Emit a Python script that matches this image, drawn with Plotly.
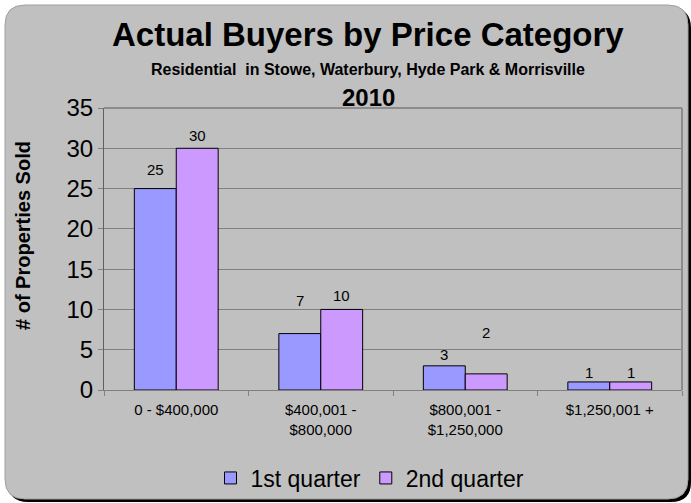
"""Actual Buyers by Price Category - 2010 residential sales, bar chart"""
import plotly.graph_objects as go

categories = ["0 - $400,000", "$400,001 -<br>$800,000", "$800,001 -<br>$1,250,000", "$1,250,001 +"]
q1_sold = [25, 7, 3, 1]
q2_sold = [30, 10, 2, 1]
series_names = ["1st quarter", "2nd quarter"]

W, H = 691, 503
PLOT_L, PLOT_R, PLOT_T, PLOT_B = 104, 682, 108, 390
BARGAP = 0.42


def px_x(px):
    return (px - PLOT_L) / (PLOT_R - PLOT_L)


def px_y(py):
    return (PLOT_B - py) / (PLOT_B - PLOT_T)


def rounded_rect(x0, y0, x1, y1, r):
    # pixel box -> paper-coordinate path with quadratic corners
    pts = [
        f"M {px_x(x0 + r)} {px_y(y0)}",
        f"L {px_x(x1 - r)} {px_y(y0)}",
        f"Q {px_x(x1)} {px_y(y0)} {px_x(x1)} {px_y(y0 + r)}",
        f"L {px_x(x1)} {px_y(y1 - r)}",
        f"Q {px_x(x1)} {px_y(y1)} {px_x(x1 - r)} {px_y(y1)}",
        f"L {px_x(x0 + r)} {px_y(y1)}",
        f"Q {px_x(x0)} {px_y(y1)} {px_x(x0)} {px_y(y1 - r)}",
        f"L {px_x(x0)} {px_y(y0 + r)}",
        f"Q {px_x(x0)} {px_y(y0)} {px_x(x0 + r)} {px_y(y0)}",
        "Z",
    ]
    return " ".join(pts)


FONT = "Liberation Sans, Arial, sans-serif"

fig = go.Figure()
fig.add_trace(go.Bar(
    x=categories, y=q1_sold, name=series_names[0],
    marker=dict(color="#9999FF", line=dict(color="#000000", width=1)),
))
fig.add_trace(go.Bar(
    x=categories, y=q2_sold, name=series_names[1],
    marker=dict(color="#CC99FF", line=dict(color="#000000", width=1)),
))

# data labels (Excel placed them at uneven heights above the bars)
half_bar = (1 - BARGAP) / 4
label_shift = [[19, 33, 11, 9], [13, 14, 41, 9]]
for s, (vals, off) in enumerate(zip([q1_sold, q2_sold], [-half_bar, half_bar])):
    for i, v in enumerate(vals):
        fig.add_annotation(
            x=i + off, y=v, xref="x", yref="y", text=str(v), showarrow=False,
            xanchor="center", yshift=label_shift[s][i], yanchor="middle",
            font=dict(family=FONT, size=15, color="#000000"),
        )

fig.add_shape(type="path", xref="paper", yref="paper", layer="below",
              path=rounded_rect(8, 8, 691, 502, 20),
              fillcolor="#000000", line=dict(width=0))
fig.add_shape(type="path", xref="paper", yref="paper", layer="below",
              path=rounded_rect(5, 5, 688, 499, 20),
              fillcolor="#C0C0C0", line=dict(color="#A0A0A0", width=1))

titles = [
    ("<b>Actual Buyers by Price Category</b>", 35, 33),
    ("<b>Residential  in Stowe, Waterbury, Hyde Park &amp; Morrisville</b>", 69, 16),
    ("<b>2010</b>", 97, 24),
]
for text, ypx, size in titles:
    fig.add_annotation(x=px_x(368), y=px_y(ypx), xref="paper", yref="paper",
                       xanchor="center", yanchor="middle", text=text, showarrow=False,
                       font=dict(family=FONT, size=size, color="#000000"))

# y-axis title sits a little above the plot's middle, as in the original
fig.add_annotation(x=px_x(23), y=px_y(236), xref="paper", yref="paper",
                   xanchor="center", yanchor="middle", textangle=-90,
                   text="<b># of Properties Sold</b>", showarrow=False,
                   font=dict(family=FONT, size=20, color="#000000"))

fig.update_layout(
    width=W, height=H,
    margin=dict(l=PLOT_L, r=W - PLOT_R, t=PLOT_T, b=H - PLOT_B, autoexpand=False),
    paper_bgcolor="#FFFFFF",
    plot_bgcolor="rgba(0,0,0,0)",
    barmode="group", bargap=BARGAP, bargroupgap=0,
    font=dict(family=FONT, color="#000000"),
    showlegend=True,
    legend=dict(orientation="h", x=px_x(370), xanchor="center", y=px_y(478),
                yanchor="middle", font=dict(size=23), bgcolor="rgba(0,0,0,0)",
                itemwidth=30, traceorder="normal"),
)
fig.update_xaxes(
    showline=True, linecolor="#808080", linewidth=1, automargin=False,
    ticks="outside", tickson="boundaries", ticklen=5, tickcolor="#808080",
    ticklabelstandoff=6, tickfont=dict(size=15), mirror=False, showgrid=False,
)
fig.update_yaxes(
    range=[0, 35], dtick=5, showgrid=True, gridcolor="#808080", gridwidth=1,
    showline=True, linecolor="#606060", linewidth=1, automargin=False,
    ticks="outside", ticklen=5, tickcolor="#808080",
    tickfont=dict(size=24), zeroline=False,
)
# plot-area frame on the top and right
fig.add_shape(type="line", xref="paper", yref="paper", x0=0, x1=1, y0=1, y1=1,
              line=dict(color="#8C8C8C", width=2))
fig.add_shape(type="line", xref="paper", yref="paper", x0=1, x1=1, y0=0, y1=1,
              line=dict(color="#8C8C8C", width=2))

# drop the page's default body margin so the figure sits at the window corner
fig.write_html("out.html", config={"displayModeBar": False},
               post_script="document.body.style.margin='0';")
